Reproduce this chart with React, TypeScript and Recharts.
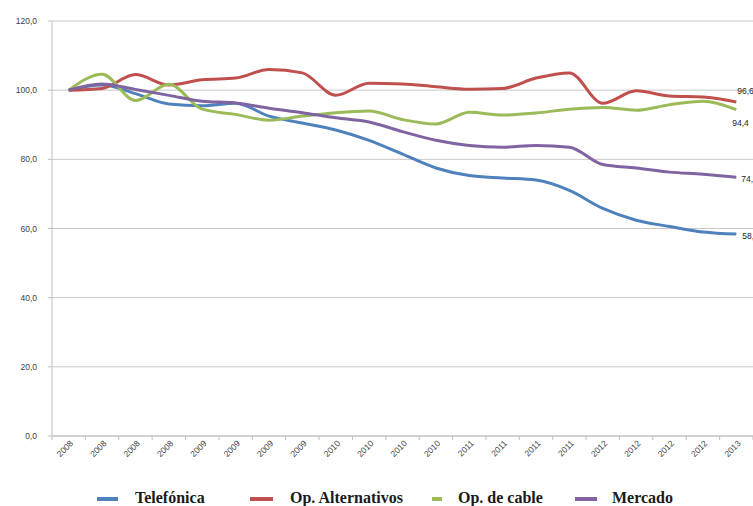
import React from "react";
import { LineChart, Line, XAxis, YAxis, CartesianGrid, LabelList } from "recharts";

const categories = [
  "2008", "2008", "2008", "2008",
  "2009", "2009", "2009", "2009",
  "2010", "2010", "2010", "2010",
  "2011", "2011", "2011", "2011",
  "2012", "2012", "2012", "2012",
  "2013",
];

const telefonica = [100, 101.5, 99, 96, 95.5, 96.2, 92.5, 90.5, 88.5, 85.5, 81.5, 77.5, 75.3, 74.6, 74, 71, 65.8, 62.4, 60.6, 59, 58.4];
const alternativos = [100, 100.5, 104.5, 101.5, 103, 103.5, 106, 105, 98.5, 102, 101.8, 101, 100.3, 100.5, 103.5, 105, 96.2, 99.8, 98.3, 98, 96.6];
const cable = [100, 104.6, 97, 101.7, 94.5, 93, 91.3, 92.5, 93.5, 94, 91.5, 90.2, 93.6, 92.8, 93.4, 94.5, 95, 94.2, 95.8, 96.8, 94.4];
const mercado = [100, 101.8, 100.2, 98.5, 96.8, 96.3, 94.8, 93.5, 92, 90.8, 88, 85.5, 84, 83.5, 84, 83.5, 78.5, 77.5, 76.3, 75.7, 74.8];

const yTicks = [0, 20, 40, 60, 80, 100, 120];

const seriesNames = ["Telefónica", "Op. Alternativos", "Op. de cable", "Mercado"];

const data = categories.map((c, i) => ({
  idx: i,
  label: c,
  telefonica: telefonica[i],
  alternativos: alternativos[i],
  cable: cable[i],
  mercado: mercado[i],
}));

const fmt = (v: number) => v.toFixed(1).replace(".", ",");

const xTickValues: number[] = [];
for (let i = -0.5; i <= categories.length - 0.5; i += 0.5) xTickValues.push(i);

const sansStyle = { fontFamily: "'Liberation Sans', Arial, sans-serif" };

const XTick = (props: any) => {
  const { x, y, payload } = props;
  const v = payload.value as number;
  if (Number.isInteger(v)) {
    const tx = x + 5;
    const ty = y + 8;
    return (
      <text
        x={tx}
        y={ty}
        transform={`rotate(-45, ${tx}, ${ty})`}
        textAnchor="end"
        fontSize={8.5}
        style={sansStyle}
        fill="#404040"
      >
        {categories[v]}
      </text>
    );
  }
  return <line x1={x} y1={y} x2={x} y2={y + 4} stroke="#bfbfbf" strokeWidth={1} />;
};

const makeEndLabel = (dx: number, dy: number) => (props: any) => {
  const { x, y, value, index } = props;
  if (index !== categories.length - 1) return null;
  return (
    <text
      x={x + dx}
      y={y + dy}
      fontSize={8.5}
      style={sansStyle}
      fill="#262626"
      dominantBaseline="central"
    >
      {fmt(Number(value))}
    </text>
  );
};

const colors = ["#4F81BD", "#C0504D", "#9BBB59", "#8064A2"];

const legendLayout = [
  { x1: 97, x2: 118, tx: 135 },
  { x1: 250, x2: 273, tx: 290 },
  { x1: 432, x2: 442, tx: 458 },
  { x1: 575, x2: 597, tx: 612 },
];

export default function App() {
  return (
    <div style={{ position: "absolute", left: 0, top: 0, width: 753, height: 506, overflow: "hidden", background: "#fff" }}>
      <LineChart width={753} height={506} data={data} margin={{ top: 21, right: 0, bottom: 0, left: 0 }}>
        <CartesianGrid vertical={false} stroke="#c8c8c8" strokeWidth={1} />
        <XAxis
          dataKey="idx"
          type="number"
          domain={[-0.5, categories.length - 0.5]}
          ticks={xTickValues}
          interval={0}
          tickLine={false}
          tickSize={0}
          tickMargin={0}
          axisLine={{ stroke: "#bfbfbf" }}
          height={70}
          tick={<XTick />}
        />
        <YAxis
          domain={[0, 120]}
          ticks={yTicks}
          interval={0}
          width={52}
          tickSize={4}
          tickMargin={11}
          tickLine={{ stroke: "#bfbfbf" }}
          axisLine={{ stroke: "#bfbfbf" }}
          tickFormatter={fmt}
          tick={{ fontSize: 8.5, fill: "#404040", style: sansStyle }}
        />
        <Line type="monotone" dataKey="telefonica" name={seriesNames[0]} stroke={colors[0]} strokeWidth={3} dot={false} activeDot={false} isAnimationActive={false}>
          <LabelList dataKey="telefonica" content={makeEndLabel(6, 2)} />
        </Line>
        <Line type="monotone" dataKey="alternativos" name={seriesNames[1]} stroke={colors[1]} strokeWidth={3} dot={false} activeDot={false} isAnimationActive={false}>
          <LabelList dataKey="alternativos" content={makeEndLabel(1, -11)} />
        </Line>
        <Line type="monotone" dataKey="cable" name={seriesNames[2]} stroke={colors[2]} strokeWidth={3} dot={false} activeDot={false} isAnimationActive={false}>
          <LabelList dataKey="cable" content={makeEndLabel(-4, 13)} />
        </Line>
        <Line type="monotone" dataKey="mercado" name={seriesNames[3]} stroke={colors[3]} strokeWidth={3} dot={false} activeDot={false} isAnimationActive={false}>
          <LabelList dataKey="mercado" content={makeEndLabel(5, 2)} />
        </Line>
      </LineChart>
      <svg width={753} height={506} style={{ position: "absolute", left: 0, top: 0, pointerEvents: "none" }}>
        {seriesNames.map((n, i) => (
          <g key={n}>
            <line x1={legendLayout[i].x1} y1={499} x2={legendLayout[i].x2} y2={499} stroke={colors[i]} strokeWidth={4} />
            <text
              x={legendLayout[i].tx}
              y={503}
              fontSize={16}
              fontWeight="bold"
              style={{ fontFamily: "'Liberation Serif', 'DejaVu Serif', serif" }}
              fill="#1a1a1a"
            >
              {n}
            </text>
          </g>
        ))}
      </svg>
    </div>
  );
}
